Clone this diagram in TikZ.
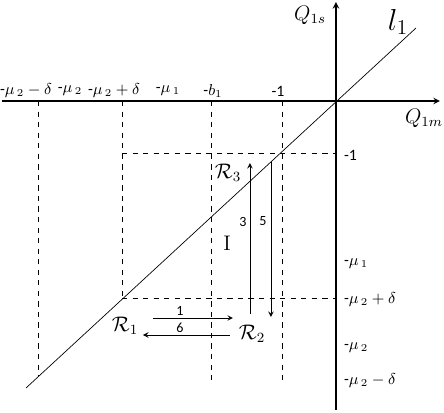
\documentclass[tikz,border=0pt]{standalone}
\usepackage{amsmath}
\usepackage{amssymb}
\usepackage[no-math]{fontspec}
\setmainfont{Carlito}
\usetikzlibrary{arrows,positioning}

\begin{document}
\begin{tikzpicture}[x=0.02cm, y=0.02cm, thin]
    % Stili
    \tikzstyle{axis}=[->, >=stealth, line width=0.7pt]
    \tikzstyle{guide}=[dashed, thin]
    \tikzstyle{arrow}=[->, >=stealth, thin]
    \tikzstyle{tick}=[font=\small, inner sep=1pt]
    \tikzstyle{count}=[font=\footnotesize, inner sep=1pt]
    \tikzstyle{region}=[font=\large, inner sep=1pt]
    \useasboundingbox (-336,-312) rectangle (108,101);

    % Punti
    \coordinate (O) at (0,0);
    \coordinate (xs) at (-334,0);
    \coordinate (xe) at (104,0);
    \coordinate (ys) at (0,-309);
    \coordinate (ye) at (0,99);
    \coordinate (ls) at (-310,-287);
    \coordinate (le) at (80,73);

    % Assi e retta
    \draw [axis] (xs) -- (xe);
    \draw [axis] (ys) -- (ye);
    \draw (ls) -- (le);

    % Linee tratteggiate
    \draw [guide] (-298,0) -- (-298,-275);
    \draw [guide] (-214,0) -- (-214,-197);
    \draw [guide] (-125,0) -- (-125,-279);
    \draw [guide] (-54,0) -- (-54,-279);
    \draw [guide] (-214,-52) -- (0,-52);
    \draw [guide] (-214,-197) -- (0,-197);

    % Etichette degli assi
    \node (qs) [font=\large] at (-26,86) {$Q_{1s}$};
    \node (qm) [font=\large] at (88,-17) {$Q_{1m}$};
    \node (l1) [font=\LARGE] at (62,79) {$l_1$};

    % Etichette asse orizzontale
    \node (a1) [tick] at (-310,10) {-$\mu_{\,2}-\delta$};
    \node (a2) [tick] at (-266,10) {-$\mu_{\,2}$};
    \node (a3) [tick] at (-222,10) {-$\mu_{\,2}+\delta$};
    \node (a4) [tick] at (-168,10) {-$\mu_{\,1}$};
    \node (a5) [tick] at (-123,10) {-$b_1$};
    \node (a6) [tick] at (-58,10) {-1};

    % Etichette asse verticale
    \node (b1) [tick, anchor=west] at (6,-54) {-1};
    \node (b2) [tick, anchor=west] at (6,-163) {-$\mu_{\,1}$};
    \node (b3) [tick, anchor=west] at (6,-199) {-$\mu_{\,2}+\delta$};
    \node (b4) [tick, anchor=west] at (6,-247) {-$\mu_{\,2}$};
    \node (b5) [tick, anchor=west] at (6,-280) {-$\mu_{\,2}-\delta$};

    % Regioni
    \node (r1) [region] at (-211,-225) {$\mathcal{R}_1$};
    \node (r2) [region] at (-84,-233) {$\mathcal{R}_2$};
    \node (r3) [region] at (-108,-72) {$\mathcal{R}_3$};
    \node (reg) [font=\large, inner sep=1pt] at (-109,-142) {$\mathrm{I}$};

    % Transizioni
    \coordinate (t1s) at (-183,-217);
    \coordinate (t1e) at (-103,-217);
    \coordinate (t6s) at (-106,-234);
    \coordinate (t6e) at (-193,-234);
    \coordinate (t3s) at (-86,-213);
    \coordinate (t3e) at (-86,-62);
    \coordinate (t5s) at (-65,-61);
    \coordinate (t5e) at (-65,-216);
    \draw [arrow] (t1s) -- (t1e);
    \draw [arrow] (t6s) -- (t6e);
    \draw [arrow] (t3s) -- (t3e);
    \draw [arrow] (t5s) -- (t5e);
    \node (n1) [count] at (-156,-210) {1};
    \node (n6) [count] at (-156,-227) {6};
    \node (n3) [count] at (-93,-121) {3};
    \node (n5) [count] at (-73,-120) {5};
\end{tikzpicture}
\end{document}
